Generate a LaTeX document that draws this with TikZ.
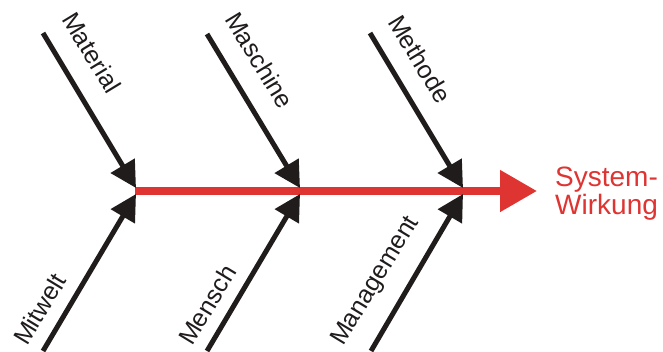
\documentclass[tikz,border=0pt]{standalone}
\usepackage{fontspec}
\setmainfont{Liberation Sans}
\usetikzlibrary{arrows.meta}
\definecolor{effectred}{RGB}{222,52,50}
\definecolor{causeblack}{RGB}{32,28,28}
\begin{document}
\begin{tikzpicture}[x=1pt,y=-1pt,
  cause/.style={draw=causeblack,line width=5pt,
    -{Triangle[length=26pt,width=27pt]}},
  spine/.style={draw=effectred,line width=8pt,
    -{Triangle[length=37pt,width=40pt]}},
  upperlabel/.style={rotate=-58.7,anchor=base west,inner sep=0pt,
    font=\fontsize{25}{27}\selectfont,text=causeblack},
  lowerlabel/.style={rotate=58.7,anchor=base west,inner sep=0pt,
    font=\fontsize{25}{27}\selectfont,text=causeblack},
  effect/.style={anchor=west,inner sep=0pt,align=left,text=effectred,
    font=\fontsize{28}{28}\selectfont}]
\useasboundingbox (0,0) rectangle (663,351);

% spine of the diagram
\coordinate (head) at (135,191);
\coordinate (tip) at (537,191);
\draw[spine] (head) -- (tip);
\node[effect] (wirkung) at (555,194) {System-\\Wirkung};

% upper causes
\coordinate (mat0) at (43,33);   \coordinate (mat1) at (136,188);
\coordinate (mas0) at (207,34);  \coordinate (mas1) at (300,188);
\coordinate (met0) at (370,33);  \coordinate (met1) at (463,188);
\draw[cause] (mat0) -- (mat1);
\draw[cause] (mas0) -- (mas1);
\draw[cause] (met0) -- (met1);
\node[upperlabel] (material) at (61,19) {Material};
\node[upperlabel] (maschine) at (224,19) {Maschine};
\node[upperlabel] (methode) at (387,22) {Methode};

% lower causes
\coordinate (mit0) at (43,351);  \coordinate (mit1) at (136,194);
\coordinate (men0) at (207,351); \coordinate (men1) at (300,194);
\coordinate (man0) at (371,351); \coordinate (man1) at (463,194);
\draw[cause] (mit0) -- (mit1);
\draw[cause] (men0) -- (men1);
\draw[cause] (man0) -- (man1);
\node[lowerlabel] (mitwelt) at (27,347) {Mitwelt};
\node[lowerlabel] (mensch) at (192,347) {Mensch};
\node[lowerlabel] (management) at (343,347) {Management};
\end{tikzpicture}
\end{document}
